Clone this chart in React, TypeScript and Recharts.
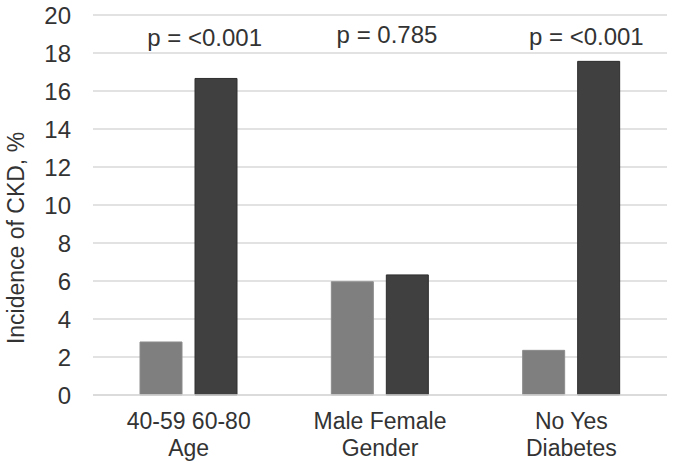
import { BarChart, Bar, XAxis, YAxis, CartesianGrid, ReferenceDot } from "recharts";

const categorias = ["Age", "Gender", "Diabetes"];
const subLabels = ["40-59 60-80", "Male Female", "No Yes"];
const grupoBaixo = [2.79, 5.96, 2.35];
const grupoAlto = [16.66, 6.32, 17.56];
const pValores = ["p = <0.001", "p = 0.785", "p = <0.001"];
const yTicks = [0, 2, 4, 6, 8, 10, 12, 14, 16, 18, 20];

// posição das caixas de texto dos p (deslocamento manual, como no original)
const pDx = [16, 7, 15];
const pY = [18.8, 19.0, 18.87];

const dados = categorias.map((c, i) => ({ cat: c, baixo: grupoBaixo[i], alto: grupoAlto[i] }));

const FONT = "'Liberation Sans', Arial, sans-serif";
const TXT = "#333333";

function TickCategoria(props: any) {
    const { x, y, payload } = props;
    const idx = categorias.indexOf(payload.value);
    return (
        <text x={x} y={y} textAnchor="middle" fill={TXT} fontSize={23} fontFamily={FONT}>
            <tspan x={x} dy={26}>{subLabels[idx]}</tspan>
            <tspan x={x} dy={27}>{payload.value}</tspan>
        </text>
    );
}

function TituloY(props: any) {
    const vb = props.viewBox;
    const cy = vb.y + vb.height / 2 + 33;
    return (
        <text transform={`translate(16,${cy}) rotate(-90)`} textAnchor="middle" dominantBaseline="central"
            fill={TXT} fontSize={23} fontFamily={FONT}>
            Incidence of CKD, %
        </text>
    );
}

export default function App() {
    return (
        <div style={{ position: "absolute", left: 0, top: 0, background: "#fff" }}>
            <BarChart width={675} height={472} data={dados} margin={{ top: 15, right: 8, left: 0, bottom: 0 }}
                barGap={13} barSize={42}>
                <CartesianGrid vertical={false} stroke="#d9d9d9" strokeWidth={1.5} />
                <XAxis dataKey="cat" height={77} tickLine={false} axisLine={{ stroke: "#d9d9d9", strokeWidth: 1.5 }}
                    tick={<TickCategoria />} interval={0} />
                <YAxis width={93} domain={[0, 20]} ticks={yTicks} tickLine={false} axisLine={false} tickMargin={16}
                    tick={{ fill: TXT, fontSize: 24, fontFamily: FONT }} label={<TituloY />} />
                <Bar dataKey="baixo" fill="#7f7f7f" stroke="#8c8c8c" isAnimationActive={false} />
                <Bar dataKey="alto" fill="#404040" stroke="#2e2e2e" isAnimationActive={false} />
                {categorias.map((c, i) => (
                    <ReferenceDot key={c} x={c} y={pY[i]} ifOverflow="visible"
                        shape={(p: any) => (
                            <text x={p.cx + pDx[i]} y={p.cy} textAnchor="middle" dominantBaseline="central"
                                fill={TXT} fontSize={24} fontFamily={FONT}>{pValores[i]}</text>
                        )} />
                ))}
            </BarChart>
        </div>
    );
}
